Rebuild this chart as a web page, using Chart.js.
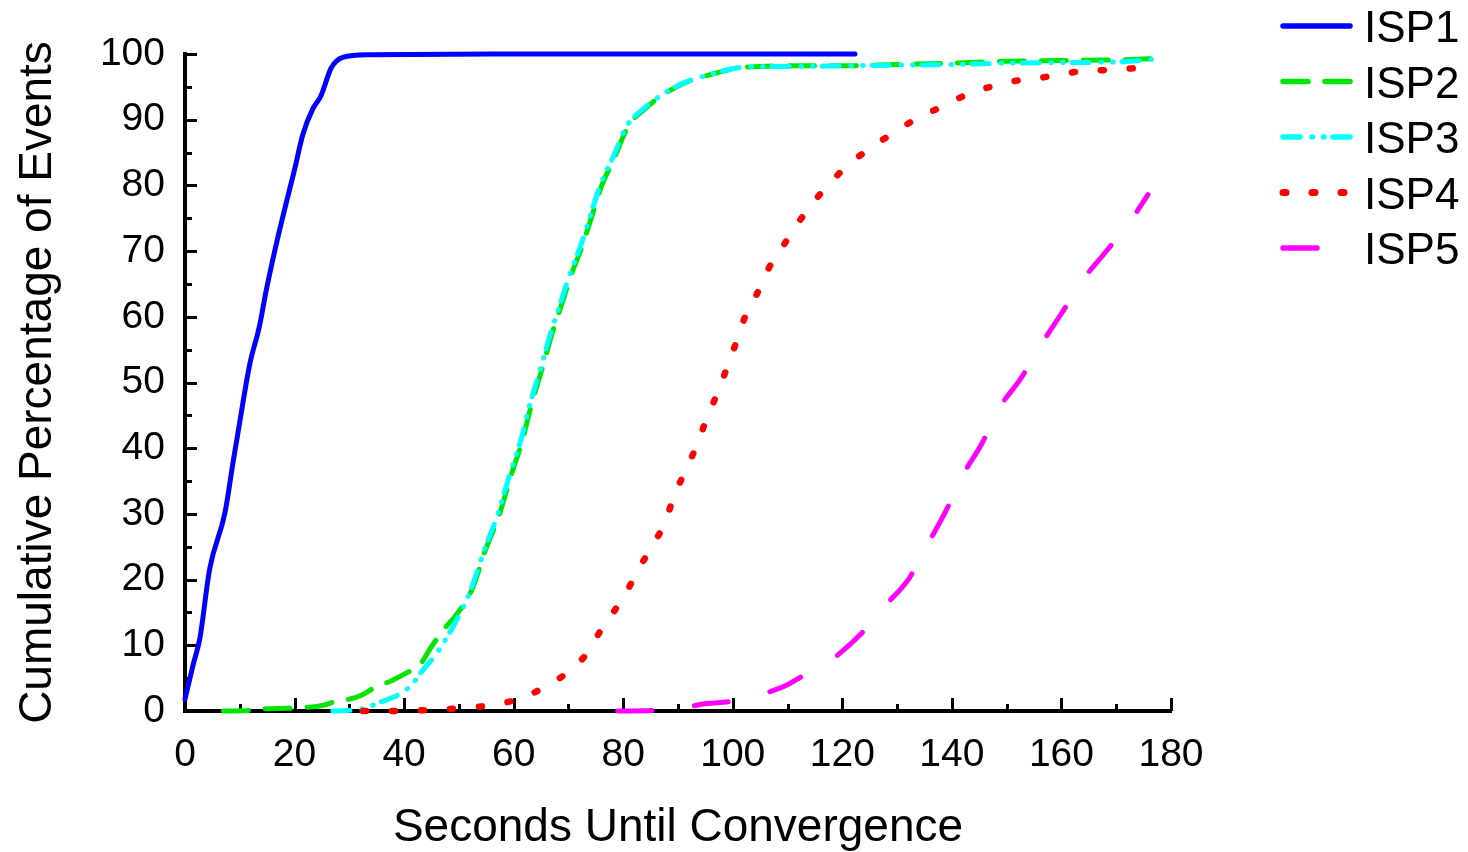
<!DOCTYPE html>
<html>
<head>
<meta charset="utf-8">
<script src="https://cdn.jsdelivr.net/npm/chart.js@4.4.1/dist/chart.umd.min.js"></script>
<style>
  html, body { margin: 0; padding: 0; background: #fff; }
  #wrap { width: 1468px; height: 852px; }
</style>
</head>
<body>
<div id="wrap"><canvas id="cdf"></canvas></div>
<script>
// seconds / cumulative percentage
const isp1Sec = [0, 1.5, 2.7, 4.5, 7.3, 8.8, 10, 11.8, 13.6, 14.8, 16.7, 18.2, 20, 21.5, 23.3, 24.8, 26.7, 28.8, 33.6, 60, 90, 122.3];
const isp1Pct = [1.8, 7.1, 11, 21.6, 30.2, 38, 44, 52.7, 58.6, 63.9, 71.2, 76.4, 82.4, 87.7, 91.6, 93.6, 97.9, 99.5, 99.9, 100, 100, 100];

const isp2Sec = [7, 12, 14, 18.6, 21, 25.4, 27.3, 30, 32.2, 34.7, 37.7, 40, 43, 45, 47.4, 49.4, 52.4, 54.8, 57.3, 59.7, 61.5, 63.3, 65.2, 67, 68.8, 70.6, 72.4, 74.2, 76, 78.5, 80.9, 83.9, 86.4, 91.2, 96.1, 101, 105, 110, 120, 130, 140, 150, 160, 170, 177];
const isp2Pct = [0, 0.1, 0.3, 0.4, 0.5, 0.9, 1.4, 1.8, 2.4, 3.6, 4.6, 5.6, 7.2, 9.8, 12.6, 14.5, 18.5, 24.4, 29.7, 36.3, 40.9, 46.8, 52.1, 57.4, 62, 66.6, 70.5, 75.1, 79.8, 84.4, 89, 91.6, 93.3, 95.6, 96.9, 97.9, 98.1, 98.2, 98.2, 98.4, 98.6, 98.9, 99, 99.1, 99.3];

const isp3Sec = [27, 32.2, 35.8, 38.8, 41.4, 43.2, 45.7, 48.1, 50, 52.2, 54.6, 57, 59.4, 61.2, 63, 64.9, 66.7, 68.5, 70.3, 72.1, 73.9, 75.7, 78.2, 80.6, 83.6, 86.2, 91, 96, 101, 105, 110, 120, 130, 140, 150, 160, 170, 177];
const isp3Pct = [0, 0.3, 1.4, 2.4, 4, 6, 8.5, 11.6, 14.5, 18.5, 24.4, 29.7, 36.3, 40.9, 46.8, 52.1, 57.4, 62, 66.6, 70.5, 75.1, 79.8, 84.4, 89, 91.6, 93.3, 95.6, 96.9, 97.9, 98.1, 98.1, 98.2, 98.3, 98.4, 98.6, 98.7, 98.8, 99.2];

const isp4Sec = [32.5, 38, 43, 48, 53, 57.5, 61.5, 66, 70.2, 73.3, 75.7, 78.2, 80.9, 83.1, 85.3, 87.6, 89.3, 91.4, 93.5, 95.1, 96.9, 98.7, 100.4, 102.2, 104.3, 106.5, 109.2, 111.6, 114.7, 117.8, 120.9, 124.3, 128.4, 132.4, 136.9, 141.3, 145.8, 150.7, 155.1, 159.6, 164, 169.3, 174.5];
const isp4Pct = [0, 0, 0.1, 0.3, 0.6, 1.1, 2.0, 3.8, 6.1, 8.7, 12, 15, 18.6, 22, 25.2, 28.6, 32.8, 36.6, 40.6, 44.2, 47.8, 51.7, 55.6, 59.9, 63.3, 67.3, 70.8, 73.9, 77.4, 80.4, 83, 85.2, 87.5, 89.6, 91.5, 93.3, 94.7, 95.8, 96.2, 96.9, 97.4, 97.6, 97.9];

const isp5Sec = [79, 86, 92, 94, 100, 104, 107, 110, 112.5, 116, 119, 123.7, 128, 132.2, 135.6, 139, 142, 145.4, 148.8, 152.5, 156.3, 160, 163.7, 167.8, 172.2, 175.8];
const isp5Pct = [0, 0.1, 0.6, 1, 1.5, 2.2, 3, 4, 5.2, 6.6, 8.4, 12, 16.2, 20.2, 25.4, 30.6, 35.9, 40.6, 46.3, 50.5, 55.8, 60.5, 65.4, 69.6, 74.1, 78.6];

const seriesNames = ["ISP1", "ISP2", "ISP3", "ISP4", "ISP5"];
const xTicks = [0, 20, 40, 60, 80, 100, 120, 140, 160, 180];
const yTicks = [0, 10, 20, 30, 40, 50, 60, 70, 80, 90, 100];

const FONT = "'Liberation Sans', Arial, Helvetica, sans-serif";

function pts(xs, ys) {
    return xs.map((x, i) => ({ x, y: ys[i] }));
}

function series(i, xs, ys, color, dash, width, order) {
    return {
        label: seriesNames[i],
        data: pts(xs, ys),
        borderColor: color,
        borderWidth: width,
        borderDash: dash,
        borderCapStyle: "round",
        borderJoinStyle: "round",
        pointRadius: 0,
        cubicInterpolationMode: "monotone",
        fill: false,
        clip: false,
        order
    };
}

// inward tick marks, like the original
const axisTicks = {
    id: "axisTicks",
    beforeDatasetsDraw(chart) {
        const { ctx, chartArea, scales: { x, y } } = chart;
        ctx.save();
        ctx.strokeStyle = "#000";
        ctx.lineWidth = 3;
        ctx.beginPath();
        for (let v = 0; v <= 100; v += 5) {
            const py = Math.round(y.getPixelForValue(v)) + 0.5;
            const len = v % 10 === 0 ? 12 : 7;
            ctx.moveTo(chartArea.left, py);
            ctx.lineTo(chartArea.left + len, py);
        }
        for (let v = 10; v <= 180; v += 10) {
            const px = Math.round(x.getPixelForValue(v)) + 0.5;
            const len = v % 20 === 0 ? 13 : 7;
            ctx.moveTo(px, chartArea.bottom);
            ctx.lineTo(px, chartArea.bottom - len);
        }
        ctx.stroke();
        ctx.restore();
    }
};

const sideLegend = {
    id: "sideLegend",
    afterDraw(chart) {
        const ctx = chart.ctx;
        const ys = [26, 81.5, 137, 192.5, 248];
        ctx.save();
        chart.data.datasets.forEach((ds, i) => {
            const yy = ys[i];
            ctx.strokeStyle = ds.borderColor;
            ctx.lineWidth = ds.borderWidth + 0.5;
            ctx.lineCap = "round";
            ctx.setLineDash(ds.borderDash || []);
            ctx.beginPath();
            ctx.moveTo(1283, yy);
            ctx.lineTo(1350, yy);
            ctx.stroke();
            ctx.setLineDash([]);
            ctx.fillStyle = "#000";
            ctx.font = "44px " + FONT;
            ctx.textBaseline = "alphabetic";
            ctx.textAlign = "left";
            ctx.fillText(ds.label, 1364, yy + 16);
        });
        ctx.restore();
    }
};

new Chart(document.getElementById("cdf"), {
    type: "line",
    data: {
        datasets: [
            series(0, isp1Sec, isp1Pct, "#0000ff", [], 5, 0),
            series(1, isp2Sec, isp2Pct, "#00e600", [25, 17], 5, 2),
            series(2, isp3Sec, isp3Pct, "#00ffff", [17, 12, 0.5, 11, 0.5, 9], 5, 1),
            series(3, isp4Sec, isp4Pct, "#ff0000", [3, 26], 6.5, 0),
            series(4, isp5Sec, isp5Pct, "#ff00ff", [34, 43], 5, 0)
        ]
    },
    options: {
        responsive: true,
        maintainAspectRatio: false,
        animation: false,
        layout: {
            padding: { top: 54, right: 297, left: 0, bottom: 0 }
        },
        plugins: {
            legend: { display: false },
            tooltip: { enabled: false }
        },
        scales: {
            x: {
                type: "linear",
                min: 0,
                max: 180,
                afterFit(scale) { scale.height = 141; },
                afterBuildTicks(scale) { scale.ticks = xTicks.map(v => ({ value: v })); },
                grid: { display: false, drawTicks: false },
                border: { display: true, color: "#000", width: 4 },
                ticks: {
                    color: "#000",
                    padding: 21,
                    autoSkip: false,
                    maxRotation: 0,
                    font: { family: FONT, size: 39 }
                },
                title: {
                    display: true,
                    text: "Seconds Until Convergence",
                    color: "#000",
                    padding: { top: 0, bottom: -4 },
                    font: { family: FONT, size: 46 }
                }
            },
            y: {
                min: 0,
                max: 100,
                afterFit(scale) { scale.width = 185; },
                afterBuildTicks(scale) { scale.ticks = yTicks.map(v => ({ value: v })); },
                grid: { display: false, drawTicks: false },
                border: { display: true, color: "#000", width: 4 },
                ticks: {
                    color: "#000",
                    padding: 20,
                    font: { family: FONT, size: 39 }
                },
                title: {
                    display: true,
                    text: "Cumulative Percentage of Events",
                    color: "#000",
                    padding: { top: 11, bottom: 0 },
                    font: { family: FONT, size: 46 }
                }
            }
        }
    },
    plugins: [axisTicks, sideLegend]
});
</script>
</body>
</html>
